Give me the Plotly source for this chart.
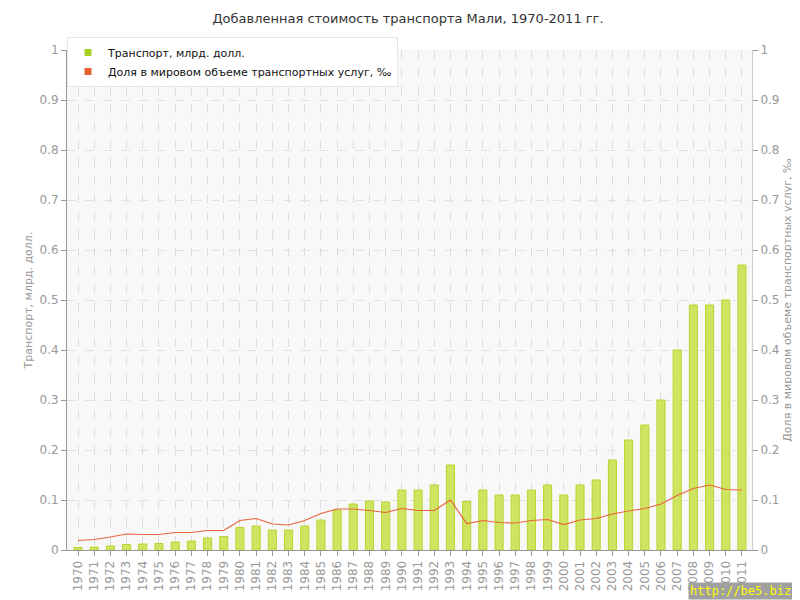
import plotly.graph_objects as go

years = [str(y) for y in range(1970, 2012)]
transport = [0.005, 0.006, 0.008, 0.011, 0.012, 0.013, 0.016, 0.018, 0.024, 0.027,
             0.045, 0.048, 0.040, 0.040, 0.048, 0.060, 0.080, 0.092, 0.098, 0.096,
             0.120, 0.120, 0.130, 0.170, 0.097, 0.120, 0.110, 0.110, 0.120, 0.130,
             0.110, 0.130, 0.140, 0.180, 0.220, 0.250, 0.300, 0.400, 0.490, 0.490,
             0.500, 0.570]
share = [0.019, 0.021, 0.026, 0.032, 0.031, 0.031, 0.035, 0.035, 0.039, 0.039,
         0.059, 0.063, 0.052, 0.050, 0.059, 0.073, 0.082, 0.082, 0.079, 0.075,
         0.083, 0.079, 0.079, 0.100, 0.053, 0.059, 0.055, 0.054, 0.059, 0.061,
         0.051, 0.060, 0.063, 0.072, 0.078, 0.083, 0.092, 0.109, 0.123, 0.130,
         0.121, 0.120]
yticks = [0, 0.1, 0.2, 0.3, 0.4, 0.5, 0.6, 0.7, 0.8, 0.9, 1]
yticktext = ["0", "0.1", "0.2", "0.3", "0.4", "0.5", "0.6", "0.7", "0.8", "0.9", "1"]

title = "Добавленная стоимость транспорта Мали, 1970-2011 гг."
name_bar = "Транспорт, млрд. долл."
name_line = "Доля в мировом объеме транспортных услуг, ‰"

font = "DejaVu Sans"
gray = "#999999"

fig = go.Figure()
fig.add_trace(go.Bar(
    x=years, y=transport, name=name_bar, width=0.5, showlegend=False,
    marker=dict(color="rgba(204,228,90,0.95)", line=dict(color="#b8d630", width=1)),
    yaxis="y",
))
fig.add_trace(go.Scatter(
    x=years, y=share, name=name_line, mode="lines", showlegend=False,
    line=dict(color="#e8643c", width=1.2),
    yaxis="y2",
))
# legend entries with small square markers
fig.add_trace(go.Scatter(
    x=[years[0]], y=[None], name=name_bar, mode="markers",
    marker=dict(symbol="square", size=7, color="#a8d020"), showlegend=True,
))
fig.add_trace(go.Scatter(
    x=[years[0]], y=[None], name=name_line, mode="markers",
    marker=dict(symbol="square", size=7, color="#e8602c"), showlegend=True,
))

fig.update_layout(
    width=800, height=600,
    margin=dict(l=59, r=56, t=42, b=58, autoexpand=False),
    paper_bgcolor="white",
    plot_bgcolor="#f8f8f8",
    title=dict(text=title, x=0.5, xanchor="center", y=1 - 10 / 600, yanchor="middle",
               font=dict(family=font, size=13, color="#333333")),
    font=dict(family=font, size=11, color=gray),
    showlegend=True,
    legend=dict(x=0.0, y=1.026, xanchor="left", yanchor="top",
                bgcolor="white", bordercolor="#e6e6e6", borderwidth=1,
                font=dict(family=font, size=11, color="#111111"),
                tracegroupgap=0, itemwidth=30),
    bargap=0.5,
    xaxis=dict(type="category", range=[-0.68, 41.62], tickangle=-90,
               showgrid=True, gridcolor="#dddddd", griddash="dash", gridwidth=1,
               showline=True, linecolor="#999999", linewidth=1,
               ticks="outside", ticklen=5, tickcolor="#999999",
               tickfont=dict(family=font, size=12, color=gray), zeroline=False),
    yaxis=dict(range=[0, 1], tickvals=yticks, ticktext=yticktext,
               showgrid=True, gridcolor="#e2e2e2", griddash="dash", gridwidth=1,
               showline=True, linecolor="#999999", linewidth=1,
               ticks="outside", ticklen=5, tickcolor="#999999",
               tickfont=dict(family=font, size=12, color=gray),
               title=dict(text=name_bar, font=dict(family=font, size=11, color=gray), standoff=4),
               zeroline=False),
    yaxis2=dict(range=[0, 1], tickvals=yticks, ticktext=yticktext, overlaying="y", side="right",
                showgrid=False, showline=True, linecolor="#cccccc", linewidth=1,
                ticks="outside", ticklen=5, tickcolor="#999999",
                tickfont=dict(family=font, size=12, color=gray),
                title=dict(text=name_line, font=dict(family=font, size=11, color=gray), standoff=4),
                zeroline=False),
)

fig.add_annotation(
    text="http://be5.biz/", xref="paper", yref="paper", x=1.07, y=-0.1,
    xanchor="right", yanchor="bottom", showarrow=False, borderpad=1,
    font=dict(family="DejaVu Sans Mono", size=12, color="#ffff00"), bgcolor="#a0a0a0",
)

fig.write_html("out.html")
